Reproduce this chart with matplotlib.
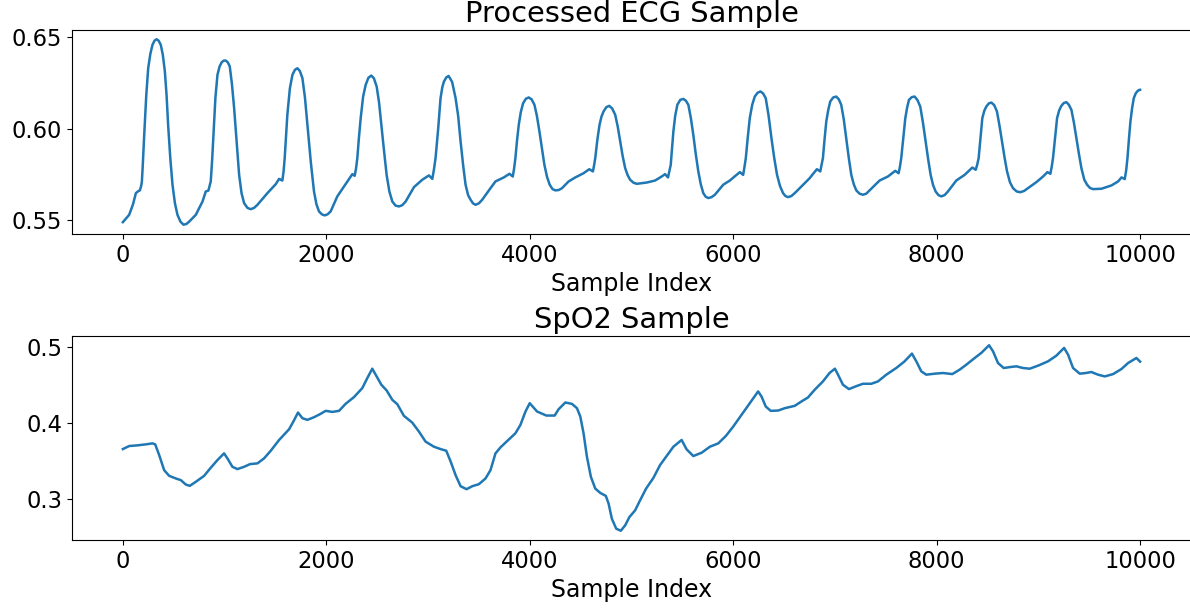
import matplotlib
matplotlib.use("Agg")
import matplotlib.pyplot as plt

# ECG trace: (sample index, value)
ecg_trace = [
    (0, 0.5487), (62, 0.5527), (100, 0.5585), (128, 0.5646), (150, 0.5656), (167, 0.5661),
    (180, 0.5685), (187, 0.571), (195, 0.579), (210, 0.5965), (230, 0.618), (249, 0.633),
    (270, 0.6408), (291, 0.6458), (311, 0.6481), (331, 0.6489), (352, 0.6481), (373, 0.6458),
    (393, 0.6403), (413, 0.6312), (430, 0.618), (445, 0.602), (466, 0.584), (488, 0.5692),
    (512, 0.559), (537, 0.5527), (566, 0.549), (596, 0.5473), (625, 0.5477), (652, 0.549),
    (717, 0.5527), (783, 0.56), (815, 0.5655), (841, 0.566), (864, 0.571), (878, 0.583),
    (891, 0.5965), (910, 0.617), (930, 0.6294), (951, 0.634), (972, 0.6363), (992, 0.6372),
    (1012, 0.6372), (1032, 0.6362), (1051, 0.634), (1072, 0.6245), (1094, 0.6111),
    (1118, 0.593), (1143, 0.5746), (1167, 0.5645), (1192, 0.5591), (1225, 0.5565),
    (1257, 0.5558), (1290, 0.5565), (1323, 0.5582), (1421, 0.5646), (1503, 0.5695),
    (1536, 0.5724), (1568, 0.5715), (1580, 0.5765), (1591, 0.5838), (1617, 0.6075),
    (1642, 0.622), (1667, 0.6294), (1692, 0.6322), (1716, 0.633), (1740, 0.6315),
    (1765, 0.6276), (1790, 0.617), (1814, 0.602), (1847, 0.582), (1879, 0.5655),
    (1903, 0.5585), (1928, 0.5546), (1956, 0.553), (1984, 0.5524), (2013, 0.553),
    (2043, 0.5546), (2108, 0.5628), (2190, 0.5695), (2256, 0.575), (2279, 0.5741),
    (2292, 0.578), (2305, 0.5838), (2320, 0.5945), (2338, 0.6057), (2362, 0.6175),
    (2387, 0.6239), (2414, 0.6278), (2442, 0.629), (2468, 0.6275), (2495, 0.623),
    (2518, 0.6145), (2541, 0.602), (2567, 0.588), (2593, 0.5746), (2620, 0.5655),
    (2649, 0.56), (2680, 0.5578), (2714, 0.5573), (2747, 0.558), (2780, 0.56),
    (2862, 0.5679), (2943, 0.5719), (3009, 0.5743), (3042, 0.5724), (3058, 0.5775),
    (3074, 0.5838), (3100, 0.6), (3123, 0.6166), (3140, 0.6225), (3156, 0.6257),
    (3180, 0.628), (3202, 0.6288), (3237, 0.6255), (3271, 0.6166), (3296, 0.607),
    (3320, 0.5929), (3345, 0.58), (3369, 0.5692), (3394, 0.5635), (3418, 0.561),
    (3442, 0.559), (3467, 0.5582), (3500, 0.559), (3533, 0.561), (3614, 0.5673),
    (3663, 0.571), (3745, 0.5732), (3801, 0.5752), (3833, 0.5737), (3846, 0.578),
    (3859, 0.5838), (3875, 0.5935), (3892, 0.602), (3912, 0.609), (3935, 0.6139),
    (3962, 0.6163), (3990, 0.617), (4018, 0.616), (4046, 0.613), (4070, 0.607),
    (4095, 0.5984), (4120, 0.589), (4144, 0.5801), (4170, 0.5735), (4196, 0.5692),
    (4224, 0.5668), (4252, 0.5661), (4285, 0.5663), (4317, 0.5673), (4382, 0.571),
    (4448, 0.5732), (4529, 0.5755), (4585, 0.5777), (4621, 0.5765), (4633, 0.58),
    (4644, 0.5838), (4665, 0.594), (4686, 0.602), (4705, 0.6065), (4725, 0.6093),
    (4753, 0.6117), (4781, 0.6124), (4810, 0.611), (4840, 0.6075), (4865, 0.601),
    (4889, 0.5929), (4913, 0.585), (4938, 0.5783), (4962, 0.5745), (4987, 0.5719),
    (5020, 0.5703), (5052, 0.5697), (5150, 0.5704), (5232, 0.5715), (5297, 0.5737),
    (5330, 0.575), (5359, 0.5732), (5372, 0.5765), (5386, 0.5801), (5399, 0.589),
    (5412, 0.5984), (5430, 0.607), (5451, 0.613), (5480, 0.6157), (5510, 0.6162),
    (5535, 0.6152), (5559, 0.613), (5583, 0.606), (5608, 0.5965), (5632, 0.586),
    (5657, 0.5765), (5681, 0.5695), (5706, 0.5646), (5730, 0.5626), (5755, 0.5619),
    (5787, 0.5624), (5820, 0.5637), (5902, 0.5692), (5967, 0.5715), (6042, 0.575),
    (6065, 0.5761), (6098, 0.5746), (6111, 0.579), (6124, 0.5838), (6143, 0.595),
    (6163, 0.6057), (6187, 0.613), (6212, 0.6175), (6240, 0.6196), (6268, 0.6203),
    (6294, 0.6192), (6320, 0.6166), (6348, 0.607), (6376, 0.5947), (6403, 0.584),
    (6431, 0.5746), (6460, 0.5685), (6490, 0.5646), (6514, 0.563), (6539, 0.5624),
    (6572, 0.563), (6605, 0.5646), (6670, 0.5682), (6752, 0.5728), (6783, 0.575),
    (6823, 0.5777), (6856, 0.5765), (6869, 0.58), (6882, 0.5838), (6898, 0.594),
    (6915, 0.6038), (6934, 0.61), (6954, 0.6148), (6983, 0.617), (7013, 0.6175),
    (7038, 0.616), (7062, 0.613), (7087, 0.605), (7111, 0.5947), (7136, 0.584),
    (7161, 0.5746), (7185, 0.5695), (7210, 0.5661), (7242, 0.5643), (7275, 0.5637),
    (7308, 0.5643), (7341, 0.5661), (7439, 0.5715), (7521, 0.5737), (7593, 0.5768),
    (7626, 0.5755), (7639, 0.579), (7652, 0.5838), (7672, 0.595), (7692, 0.6057),
    (7710, 0.6115), (7728, 0.6157), (7756, 0.6172), (7784, 0.6175), (7812, 0.6155),
    (7839, 0.612), (7866, 0.603), (7892, 0.5929), (7917, 0.583), (7941, 0.5746),
    (7965, 0.569), (7990, 0.5655), (8018, 0.5635), (8046, 0.5628), (8078, 0.5635),
    (8111, 0.5655), (8193, 0.5715), (8275, 0.5746), (8351, 0.5786), (8384, 0.5774),
    (8398, 0.58), (8413, 0.5838), (8431, 0.595), (8449, 0.6057), (8469, 0.6098),
    (8489, 0.6121), (8514, 0.6138), (8538, 0.6142), (8566, 0.6128), (8593, 0.6093),
    (8618, 0.6015), (8643, 0.5929), (8668, 0.584), (8692, 0.5765), (8721, 0.5705),
    (8751, 0.5673), (8787, 0.5655), (8823, 0.5651), (8860, 0.5658), (8898, 0.5673),
    (8980, 0.5706), (9046, 0.5737), (9089, 0.5761), (9118, 0.5752), (9131, 0.579),
    (9144, 0.5838), (9164, 0.595), (9184, 0.6057), (9205, 0.61), (9226, 0.6124),
    (9251, 0.614), (9276, 0.6144), (9300, 0.613), (9325, 0.6102), (9350, 0.603),
    (9374, 0.5947), (9399, 0.586), (9423, 0.5783), (9451, 0.572), (9479, 0.5692),
    (9508, 0.5674), (9538, 0.5668), (9620, 0.567), (9718, 0.5688), (9784, 0.571),
    (9817, 0.5732), (9849, 0.5723), (9863, 0.577), (9876, 0.5838), (9890, 0.594),
    (9905, 0.6038), (9921, 0.611), (9938, 0.6166), (9955, 0.619), (9971, 0.6203),
    (9986, 0.621), (10000, 0.6212),
]

# SpO2 trace: (sample index, value)
spo2_trace = [
    (0, 0.3653), (62, 0.3693), (144, 0.3702), (226, 0.3715), (291, 0.3728), (318, 0.3715),
    (357, 0.3574), (406, 0.3375), (455, 0.33), (521, 0.3265), (570, 0.3243), (619, 0.3185),
    (658, 0.3168), (717, 0.3221), (799, 0.33), (864, 0.3406), (930, 0.3508), (995, 0.3596),
    (1028, 0.353), (1077, 0.3419), (1126, 0.3389), (1192, 0.3419), (1251, 0.3455),
    (1323, 0.3464), (1388, 0.353), (1454, 0.3631), (1536, 0.3773), (1634, 0.3914),
    (1676, 0.4015), (1722, 0.4135), (1765, 0.406), (1814, 0.4038), (1879, 0.4073),
    (1938, 0.4113), (1994, 0.4157), (2059, 0.4143), (2125, 0.4157), (2190, 0.425),
    (2272, 0.4338), (2354, 0.4457), (2403, 0.4589), (2452, 0.4713), (2495, 0.4611),
    (2541, 0.4501), (2593, 0.4426), (2649, 0.4302), (2698, 0.4245), (2763, 0.4091),
    (2845, 0.4002), (2911, 0.3883), (2976, 0.3751), (3058, 0.3684), (3123, 0.3653),
    (3179, 0.3631), (3222, 0.349), (3271, 0.3309), (3320, 0.3163), (3379, 0.3124),
    (3435, 0.3163), (3500, 0.319), (3565, 0.3265), (3614, 0.3375), (3663, 0.3596),
    (3712, 0.3675), (3778, 0.3759), (3859, 0.3861), (3908, 0.3971), (3958, 0.4148),
    (4000, 0.4258), (4072, 0.4148), (4163, 0.4095), (4245, 0.4095), (4284, 0.4179),
    (4350, 0.4267), (4415, 0.4249), (4464, 0.4192), (4497, 0.4082), (4529, 0.3861),
    (4562, 0.3552), (4601, 0.3287), (4644, 0.3132), (4693, 0.3075), (4748, 0.3035),
    (4775, 0.2934), (4807, 0.2735), (4850, 0.2603), (4895, 0.2576), (4938, 0.2647),
    (4980, 0.2757), (5036, 0.2845), (5085, 0.2978), (5144, 0.3132), (5216, 0.3274),
    (5281, 0.3442), (5346, 0.3561), (5412, 0.3684), (5493, 0.3773), (5542, 0.3649),
    (5608, 0.3561), (5690, 0.3605), (5771, 0.3684), (5853, 0.3728), (5928, 0.3826),
    (6000, 0.3949), (6082, 0.4104), (6163, 0.4258), (6245, 0.4413), (6278, 0.4347),
    (6320, 0.4214), (6369, 0.4157), (6441, 0.4161), (6507, 0.4192), (6605, 0.4223),
    (6670, 0.428), (6735, 0.4333), (6801, 0.4435), (6882, 0.4545), (6947, 0.4656),
    (7000, 0.4713), (7039, 0.4611), (7079, 0.4501), (7138, 0.4444), (7203, 0.4479),
    (7275, 0.4514), (7357, 0.4514), (7423, 0.4545), (7505, 0.4634), (7603, 0.4722),
    (7685, 0.481), (7757, 0.4912), (7800, 0.481), (7849, 0.4678), (7898, 0.4634),
    (7980, 0.4647), (8062, 0.4656), (8154, 0.4642), (8226, 0.47), (8292, 0.4766),
    (8374, 0.4854), (8439, 0.4921), (8515, 0.5022), (8554, 0.4943), (8603, 0.4788),
    (8659, 0.4722), (8725, 0.4735), (8784, 0.4744), (8849, 0.4722), (8915, 0.4713),
    (8997, 0.4753), (9095, 0.481), (9177, 0.4885), (9253, 0.4987), (9292, 0.4898),
    (9341, 0.4722), (9407, 0.4647), (9466, 0.4656), (9521, 0.4669), (9587, 0.4634),
    (9653, 0.4611), (9735, 0.4642), (9817, 0.4709), (9882, 0.4788), (9964, 0.4854),
    (10000, 0.4806),
]

ecg_idx = [p[0] for p in ecg_trace]
ecg_val = [p[1] for p in ecg_trace]
spo2_idx = [p[0] for p in spo2_trace]
spo2_val = [p[1] for p in spo2_trace]

fig = plt.figure(figsize=(11.9, 6.09), dpi=100)
ax1 = fig.add_axes([0.0605, 0.6158, 0.9403, 0.335])
ax2 = fig.add_axes([0.0605, 0.1133, 0.9403, 0.335])

ax1.plot(ecg_idx, ecg_val, color="#1f77b4", linewidth=1.8)
ax1.set_title("Processed ECG Sample", fontsize=20.8)
ax1.set_xlabel("Sample Index", fontsize=17)
ax1.set_yticks([0.55, 0.60, 0.65])

ax2.plot(spo2_idx, spo2_val, color="#1f77b4", linewidth=1.8)
ax2.set_title("SpO2 Sample", fontsize=20.8)
ax2.set_xlabel("Sample Index", fontsize=17)
ax2.set_yticks([0.3, 0.4, 0.5])

for ax in (ax1, ax2):
    ax.tick_params(labelsize=16.3)
    ax.set_xticks([0, 2000, 4000, 6000, 8000, 10000])

fig.savefig("out.png", dpi=100)
